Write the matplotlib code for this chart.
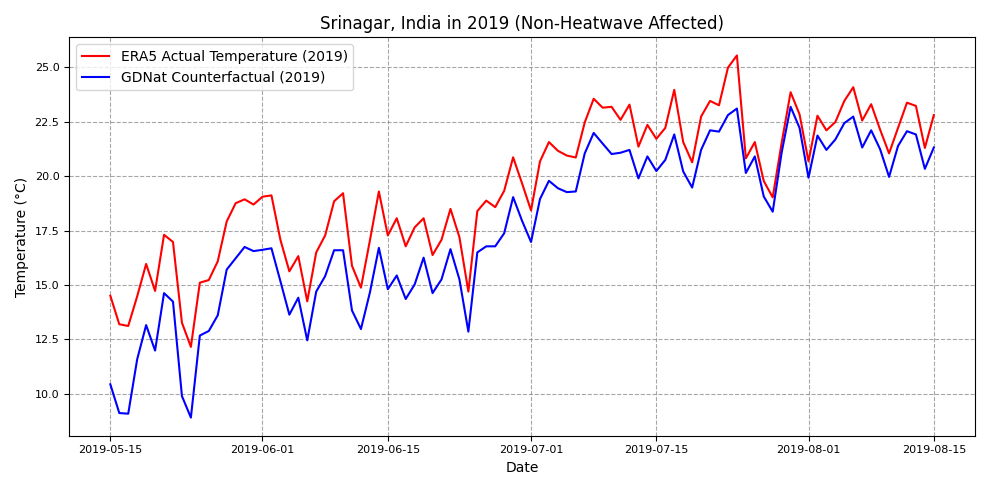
import matplotlib
matplotlib.use("Agg")
import matplotlib.pyplot as plt
import matplotlib.dates as mdates
import pandas as pd

dates = pd.date_range("2019-05-15", "2019-08-15", freq="D")

era5 = [
    14.51, 13.20, 13.12, 14.48, 15.97, 14.73, 17.31, 16.98, 13.27, 12.16,
    15.11, 15.23, 16.09, 17.92, 18.76, 18.94, 18.70, 19.06, 19.12, 17.08,
    15.63, 16.33, 14.25, 16.50, 17.28, 18.85, 19.22, 15.88, 14.88, 17.05,
    19.30, 17.28, 18.07, 16.78, 17.65, 18.07, 16.38, 17.08, 18.50, 17.20,
    14.70, 18.40, 18.88, 18.58, 19.33, 20.87, 19.67, 18.43, 20.68, 21.57,
    21.17, 20.95, 20.86, 22.47, 23.56, 23.15, 23.19, 22.59, 23.29, 21.36,
    22.36, 21.72, 22.22, 23.97, 21.57, 20.64, 22.74, 23.46, 23.26, 24.99,
    25.55, 20.82, 21.57, 19.78, 19.03, 21.54, 23.86, 22.84, 20.68, 22.78,
    22.11, 22.49, 23.46, 24.09, 22.56, 23.31, 22.14, 21.05, 22.22, 23.38,
    23.23, 21.30, 22.81,
]

gdnat = [
    10.44, 9.12, 9.09, 11.59, 13.16, 11.99, 14.63, 14.24, 9.90, 8.91,
    12.68, 12.89, 13.61, 15.71, 16.23, 16.75, 16.56, 16.62, 16.69, 15.18,
    13.64, 14.42, 12.46, 14.70, 15.41, 16.60, 16.60, 13.83, 12.98, 14.66,
    16.71, 14.81, 15.44, 14.36, 15.03, 16.26, 14.63, 15.26, 16.65, 15.26,
    12.86, 16.50, 16.78, 16.78, 17.38, 19.04, 17.95, 16.98, 18.95, 19.79,
    19.45, 19.27, 19.30, 21.05, 21.99, 21.50, 21.02, 21.08, 21.21, 19.90,
    20.91, 20.24, 20.75, 21.92, 20.22, 19.48, 21.21, 22.11, 22.05, 22.81,
    23.11, 20.15, 20.91, 19.07, 18.37, 21.09, 23.19, 22.22, 19.93, 21.87,
    21.21, 21.69, 22.44, 22.74, 21.32, 22.11, 21.24, 19.97, 21.39, 22.07,
    21.92, 20.34, 21.32,
]

fig, ax = plt.subplots(figsize=(9.9, 4.9), dpi=100)
ax.plot(dates, era5, color="red", lw=1.5, label="ERA5 Actual Temperature (2019)")
ax.plot(dates, gdnat, color="blue", lw=1.5, label="GDNat Counterfactual (2019)")

ax.set_title("Srinagar, India in 2019 (Non-Heatwave Affected)")
ax.set_xlabel("Date")
ax.set_ylabel("Temperature (°C)")
ax.xaxis.set_major_locator(mdates.DayLocator(bymonthday=[1, 15]))
ax.xaxis.set_major_formatter(mdates.DateFormatter("%Y-%m-%d"))
ax.tick_params(labelsize=8)
ax.grid(True, linestyle="--", color="gray", alpha=0.7)
ax.legend(loc="upper left")

fig.tight_layout()
fig.savefig("out.png", dpi=100)
